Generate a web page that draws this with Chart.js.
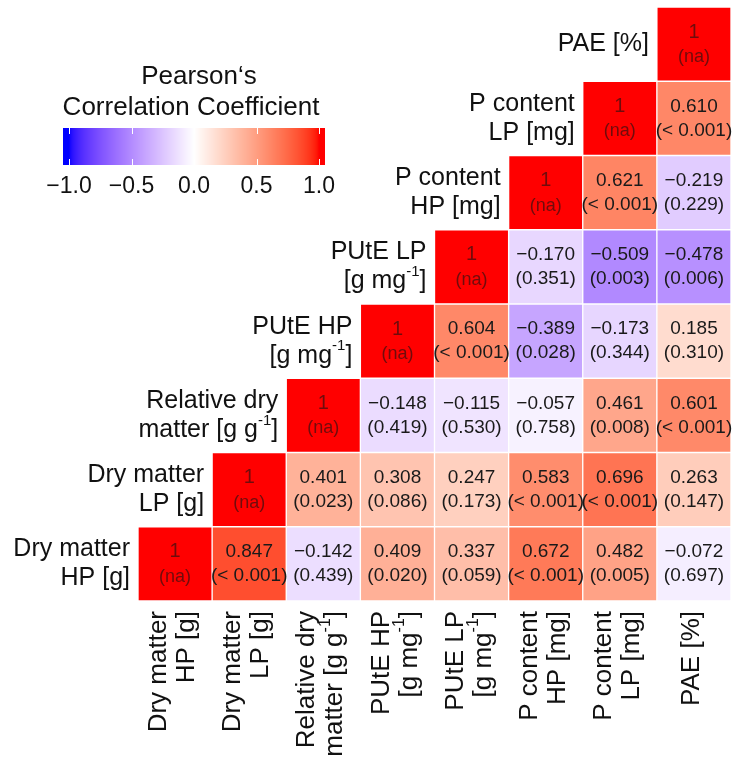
<!DOCTYPE html>
<html>
<head>
<meta charset="utf-8">
<script src="https://cdn.jsdelivr.net/npm/chart.js@4.4.1/dist/chart.umd.min.js"></script>
<style>
  html, body { margin: 0; padding: 0; background: #fff; }
  canvas { display: block; }
</style>
</head>
<body>
<canvas id="corr" width="738" height="761"></canvas>
<script>
// variables (bottom row / left column first)
const variables = ["Dry matter HP [g]", "Dry matter LP [g]", "Relative dry matter [g g-1]", "PUtE HP [g mg-1]",
                   "PUtE LP [g mg-1]", "P content HP [mg]", "P content LP [mg]", "PAE [%]"];
// two-line versions of the labels, ^..^ marks a superscript
const labelLines = [
    ["Dry matter", "HP [g]"],
    ["Dry matter", "LP [g]"],
    ["Relative dry", "matter [g g^-1^]"],
    ["PUtE HP", "[g mg^-1^]"],
    ["PUtE LP", "[g mg^-1^]"],
    ["P content", "HP [mg]"],
    ["P content", "LP [mg]"],
    ["PAE [%]"],
];

// correlations, row i starts at column i (diagonal)
const rDryHP   = [1, 0.847, -0.142, 0.409, 0.337, 0.672, 0.482, -0.072];
const rDryLP   = [1, 0.401, 0.308, 0.247, 0.583, 0.696, 0.263];
const rRelDry  = [1, -0.148, -0.115, -0.057, 0.461, 0.601];
const rPUtEHP  = [1, 0.604, -0.389, -0.173, 0.185];
const rPUtELP  = [1, -0.170, -0.509, -0.478];
const rPHP     = [1, 0.621, -0.219];
const rPLP     = [1, 0.610];
const rPAE     = [1];

// p-values, same layout
const pDryHP   = ["na", "< 0.001", "0.439", "0.020", "0.059", "< 0.001", "0.005", "0.697"];
const pDryLP   = ["na", "0.023", "0.086", "0.173", "< 0.001", "< 0.001", "0.147"];
const pRelDry  = ["na", "0.419", "0.530", "0.758", "0.008", "< 0.001"];
const pPUtEHP  = ["na", "< 0.001", "0.028", "0.344", "0.310"];
const pPUtELP  = ["na", "0.351", "0.003", "0.006"];
const pPHP     = ["na", "< 0.001", "0.229"];
const pPLP     = ["na", "< 0.001"];
const pPAE     = ["na"];

const rRows = [rDryHP, rDryLP, rRelDry, rPUtEHP, rPUtELP, rPHP, rPLP, rPAE];
const pRows = [pDryHP, pDryLP, pRelDry, pPUtEHP, pPUtELP, pPHP, pPLP, pPAE];

const legendTicks = [-1, -0.5, 0, 0.5, 1];

const FONT = "'Liberation Sans', Arial, sans-serif";

// ---- colour scale: blue - white - red, interpolated in Lab ----
function srgbToLin(c) { c /= 255; return c <= 0.04045 ? c / 12.92 : Math.pow((c + 0.055) / 1.055, 2.4); }
function linToSrgb(c) { c = c <= 0.0031308 ? 12.92 * c : 1.055 * Math.pow(c, 1 / 2.4) - 0.055; return Math.round(Math.max(0, Math.min(1, c)) * 255); }
function toLab([r, g, b]) {
    const R = srgbToLin(r), G = srgbToLin(g), B = srgbToLin(b);
    let x = (0.4124 * R + 0.3576 * G + 0.1805 * B) / 0.95047;
    let y = (0.2126 * R + 0.7152 * G + 0.0722 * B);
    let z = (0.0193 * R + 0.1192 * G + 0.9505 * B) / 1.08883;
    const f = (t) => (t > 0.008856 ? Math.cbrt(t) : 7.787 * t + 16 / 116);
    x = f(x); y = f(y); z = f(z);
    return [116 * y - 16, 500 * (x - y), 200 * (y - z)];
}
function fromLab([L, a, b]) {
    let y = (L + 16) / 116, x = a / 500 + y, z = y - b / 200;
    const fi = (t) => (t * t * t > 0.008856 ? t * t * t : (t - 16 / 116) / 7.787);
    x = fi(x) * 0.95047; y = fi(y); z = fi(z) * 1.08883;
    const R = 3.2406 * x - 1.5372 * y - 0.4986 * z;
    const G = -0.9689 * x + 1.8758 * y + 0.0415 * z;
    const B = 0.0557 * x - 0.2040 * y + 1.0570 * z;
    return [linToSrgb(R), linToSrgb(G), linToSrgb(B)];
}
const labWhite = toLab([255, 255, 255]), labRed = toLab([255, 0, 0]), labBlue = toLab([0, 0, 255]);
function corrColor(v) {
    v = Math.max(-1, Math.min(1, v));
    const end = v >= 0 ? labRed : labBlue, t = Math.abs(v);
    const lab = labWhite.map((w, k) => w + (end[k] - w) * t);
    const [r, g, b] = fromLab(lab);
    return `rgb(${r},${g},${b})`;
}

function fmt(v) { return (v < 0 ? "\u2212" : "") + Math.abs(v).toFixed(3); }

// draw text with ^sup^ parts; align = left/right/center relative to x
function richText(ctx, str, x, y, size, align) {
    const parts = str.split("^").map((t, k) => ({ t, sup: k % 2 === 1 }));
    const supSize = Math.round(size * 0.6);
    let total = 0;
    parts.forEach((p) => {
        ctx.font = `${p.sup ? supSize : size}px ${FONT}`;
        p.w = ctx.measureText(p.t).width;
        total += p.w;
    });
    let cx = align === "right" ? x - total : align === "center" ? x - total / 2 : x;
    ctx.textAlign = "left";
    ctx.textBaseline = "middle";
    parts.forEach((p) => {
        ctx.font = `${p.sup ? supSize : size}px ${FONT}`;
        ctx.fillText(p.t, cx, p.sup ? y - size * 0.38 : y);
        cx += p.w;
    });
}

const datasets = rRows.map((row, i) => ({
    label: variables[i],
    data: variables.map((_, j) => (j >= i ? [i, i + 1] : null)),
    backgroundColor: variables.map((_, j) => (j >= i ? corrColor(row[j - i]) : "transparent")),
    borderColor: "rgba(255,255,255,0.55)",
    borderWidth: 1,
    borderSkipped: false,
    barPercentage: 1,
    categoryPercentage: 1,
    grouped: false,
}));

const annotate = {
    id: "annotate",
    afterDatasetsDraw(chart) {
        const ctx = chart.ctx;
        const xs = chart.scales.x, ys = chart.scales.y;
        const cw = xs.getPixelForValue(1) - xs.getPixelForValue(0);
        ctx.save();
        // cell texts
        rRows.forEach((row, i) => {
            const meta = chart.getDatasetMeta(i);
            row.forEach((v, k) => {
                const el = meta.data[i + k];
                const cy = (el.y + el.base) / 2;
                ctx.textAlign = "center";
                ctx.textBaseline = "middle";
                if (k === 0) {
                    ctx.fillStyle = "#700c0c";
                    ctx.font = `20px ${FONT}`;
                    ctx.fillText("1", el.x, cy - 12);
                    ctx.font = `18px ${FONT}`;
                    ctx.fillText("(" + pRows[i][k] + ")", el.x, cy + 13);
                } else {
                    ctx.fillStyle = "#1a1a1a";
                    ctx.font = `19px ${FONT}`;
                    ctx.fillText(fmt(v), el.x, cy - 12);
                    ctx.fillText("(" + pRows[i][k] + ")", el.x, cy + 12);
                }
            });
        });
        ctx.fillStyle = "#111";
        // row labels, left of each diagonal cell
        labelLines.forEach((lines, i) => {
            const left = xs.getPixelForValue(i) - cw / 2;
            const cy = ys.getPixelForValue(i + 0.5);
            lines.forEach((ln, k) => {
                const off = (k - (lines.length - 1) / 2) * 29;
                richText(ctx, ln, left - 8, cy + off, 25, "right");
            });
        });
        // column labels, rotated under the grid
        const top = chart.chartArea.bottom + 10;
        labelLines.forEach((lines, j) => {
            const cx = xs.getPixelForValue(j);
            ctx.save();
            ctx.translate(cx, top);
            ctx.rotate(-Math.PI / 2);
            lines.forEach((ln, k) => {
                const off = (k - (lines.length - 1) / 2) * 28;
                richText(ctx, ln, 0, off - 2, 26, "right");
            });
            ctx.restore();
        });
        // colour bar legend
        const bx0 = 63, bx1 = 325, by0 = 128, by1 = 165, mid = 194, half = 125;
        for (let x = bx0; x < bx1; x++) {
            ctx.fillStyle = corrColor((x + 0.5 - mid) / half);
            ctx.fillRect(x, by0, 1, by1 - by0);
        }
        ctx.strokeStyle = "#fff";
        ctx.lineWidth = 1;
        legendTicks.forEach((t) => {
            const x = Math.round(mid + t * half) + 0.5;
            ctx.beginPath();
            ctx.moveTo(x, by0); ctx.lineTo(x, by0 + 6);
            ctx.moveTo(x, by1 - 6); ctx.lineTo(x, by1);
            ctx.stroke();
        });
        ctx.fillStyle = "#111";
        ctx.textAlign = "center";
        ctx.textBaseline = "middle";
        ctx.font = `23px ${FONT}`;
        legendTicks.forEach((t) => {
            const s = (t < 0 ? "\u2212" : "") + Math.abs(t).toFixed(1);
            ctx.fillText(s, mid + t * half, 187);
        });
        ctx.font = `26px ${FONT}`;
        ctx.fillText("Pearson\u2018s", 199, 77);
        ctx.fillText("Correlation Coefficient", 191, 108);
        ctx.restore();
    },
};

new Chart(document.getElementById("corr").getContext("2d"), {
    type: "bar",
    data: { labels: variables, datasets },
    options: {
        responsive: false,
        animation: false,
        layout: { padding: { left: 138, right: 7, top: 7, bottom: 160 } },
        scales: {
            x: { type: "category", display: false },
            y: { type: "linear", min: 0, max: 8, display: false },
        },
        plugins: { legend: { display: false }, tooltip: { enabled: false } },
    },
    plugins: [annotate],
});
</script>
</body>
</html>
